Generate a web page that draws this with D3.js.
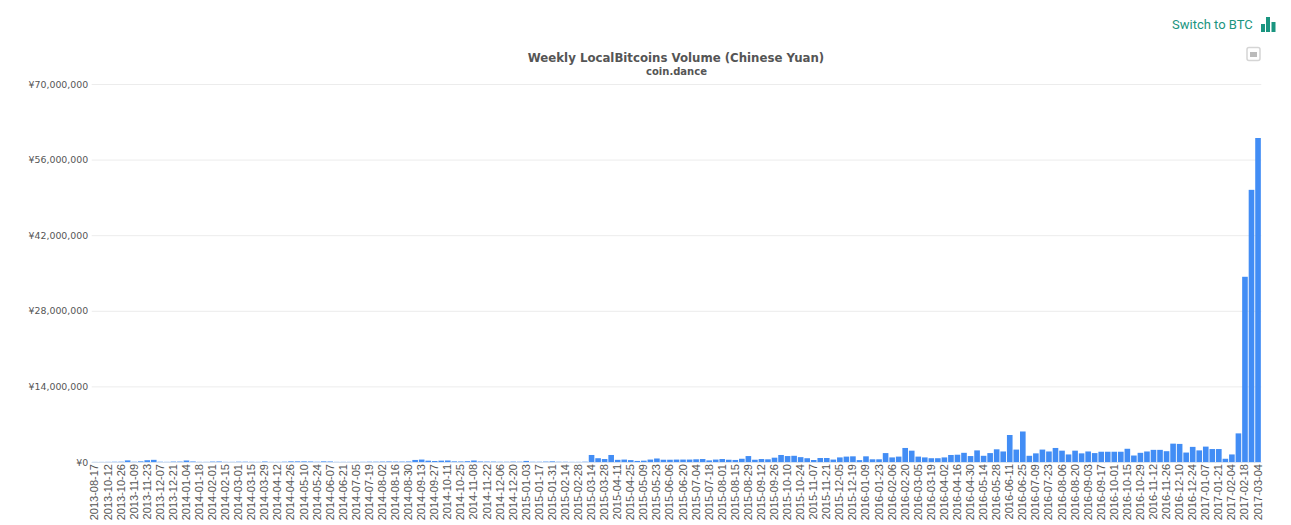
<!DOCTYPE html>
<html>
<head>
<meta charset="utf-8">
<title>Weekly LocalBitcoins Volume (Chinese Yuan)</title>
<script src="https://d3js.org/d3.v7.min.js"></script>
<style>
    html, body { margin: 0; padding: 0; background: #fff; overflow: hidden; }
    .tick text { font-family: "Liberation Sans", Arial, sans-serif; }
    .grid line { stroke: #ececec; }
    .grid path, .xaxis path, .xaxis line { display: none; }
</style>
</head>
<body>
<div id="chart"></div>
<script>
// every second week gets a label on the axis
var tickLabels = ["2013-08-17","2013-10-12","2013-10-26","2013-11-09","2013-11-23","2013-12-07","2013-12-21",
    "2014-01-04","2014-01-18","2014-02-01","2014-02-15","2014-03-01","2014-03-15","2014-03-29","2014-04-12",
    "2014-04-26","2014-05-10","2014-05-24","2014-06-07","2014-06-21","2014-07-05","2014-07-19","2014-08-02",
    "2014-08-16","2014-08-30","2014-09-13","2014-09-27","2014-10-11","2014-10-25","2014-11-08","2014-11-22",
    "2014-12-06","2014-12-20","2015-01-03","2015-01-17","2015-01-31","2015-02-14","2015-02-28","2015-03-14",
    "2015-03-28","2015-04-11","2015-04-25","2015-05-09","2015-05-23","2015-06-06","2015-06-20","2015-07-04",
    "2015-07-18","2015-08-01","2015-08-15","2015-08-29","2015-09-12","2015-09-26","2015-10-10","2015-10-24",
    "2015-11-07","2015-11-21","2015-12-05","2015-12-19","2016-01-09","2016-01-23","2016-02-06","2016-02-20",
    "2016-03-05","2016-03-19","2016-04-02","2016-04-16","2016-04-30","2016-05-14","2016-05-28","2016-06-11",
    "2016-06-25","2016-07-09","2016-07-23","2016-08-06","2016-08-20","2016-09-03","2016-09-17","2016-10-01",
    "2016-10-15","2016-10-29","2016-11-12","2016-11-26","2016-12-10","2016-12-24","2017-01-07","2017-01-21",
    "2017-02-04","2017-02-18","2017-03-04"];

// weekly volume, millions of yuan
var volumeMillions = [
    0.02,0.02,0.03,0.05,0.06,0.30,0.05,0.12,0.33,0.40,0.05,0.03,0.08,0.08,0.28,0.10,0.03,0.03,0.08,0.10,
    0.03,0.03,0.06,0.06,0.04,0.03,0.10,0.03,0.03,0.06,0.12,0.12,0.12,0.10,0.05,0.12,0.10,0.03,0.03,0.03,
    0.03,0.04,0.06,0.06,0.08,0.10,0.08,0.08,0.10,0.38,0.45,0.25,0.18,0.25,0.28,0.12,0.10,0.15,0.28,0.10,
    0.08,0.08,0.05,0.05,0.08,0.06,0.20,0.05,0.05,0.08,0.12,0.05,0.05,0.03,0.03,0.06,
    1.30,0.70,0.55,1.30,0.40,0.45,0.35,0.20,0.25,0.45,0.65,0.42,0.42,0.45,0.45,0.45,0.50,0.55,0.30,0.45,
    0.55,0.42,0.38,0.60,1.10,0.42,0.55,0.50,0.80,1.30,1.10,1.15,0.90,0.70,0.37,0.74,0.74,0.45,0.85,1.00,
    1.05,0.35,1.05,0.50,0.50,1.65,0.85,1.00,2.60,2.10,1.00,0.85,0.70,0.70,0.85,1.30,1.35,1.70,1.10,2.15,
    1.15,1.65,2.35,1.95,5.00,2.30,5.65,1.15,1.60,2.30,1.95,2.60,2.10,1.40,2.10,1.60,1.95,1.65,1.90,1.90,
    1.90,1.90,2.45,1.20,1.70,1.95,2.25,2.25,2.00,3.40,3.35,1.75,2.80,2.15,2.85,2.40,2.40,0.60,1.40,5.30,
    34.3,50.4,60.0];

var yTicks = [0, 14, 28, 42, 56, 70];

var svgWidth = 1291;
var svgHeight = 525;

// plot area
var margin = { top: 84, right: 29.7, bottom: 63, left: 91.7 };
var width = svgWidth - margin.left - margin.right;
var height = svgHeight - margin.top - margin.bottom;

var svg = d3.select("#chart")
    .append("svg")
    .attr("width", svgWidth)
    .attr("height", svgHeight)
    .style("display", "block");

var chartGroup = svg.append("g")
    .attr("transform", `translate(${margin.left}, ${margin.top})`);

var xScale = d3.scaleBand()
    .domain(d3.range(volumeMillions.length))
    .range([0, width])
    .paddingInner(0.14)
    .paddingOuter(0.07);

var yScale = d3.scaleLinear()
    .domain([0, 70])
    .range([height, 0]);

// gridlines and y labels
var yAxis = d3.axisLeft(yScale)
    .tickValues(yTicks)
    .tickSize(-width)
    .tickPadding(3.5)
    .tickFormat(d => "¥" + d3.format(",")(d * 1000000));

var yGroup = chartGroup.append("g")
    .attr("class", "grid")
    .call(yAxis);

yGroup.selectAll("text")
    .style("font-family", "DejaVu Sans, Verdana, sans-serif")
    .attr("font-size", 9.4)
    .attr("fill", "#555");

// baseline
chartGroup.append("line")
    .attr("x1", 0)
    .attr("x2", width)
    .attr("y1", height + 0.5)
    .attr("y2", height + 0.5)
    .attr("stroke", "#d5e0ee");

chartGroup.selectAll(".bar")
    .data(volumeMillions)
    .enter()
    .append("rect")
    .attr("class", "bar")
    .attr("x", (d, i) => xScale(i))
    .attr("y", d => yScale(d))
    .attr("width", xScale.bandwidth())
    .attr("height", d => height - yScale(d))
    .attr("fill", "#428df5");

// x labels, one for every second bar
var xAxis = d3.axisBottom(xScale)
    .tickValues(tickLabels.map((d, i) => i * 2))
    .tickSize(0)
    .tickFormat(d => tickLabels[d / 2]);

var xGroup = chartGroup.append("g")
    .attr("class", "xaxis")
    .attr("transform", `translate(0,${height})`)
    .call(xAxis);

xGroup.selectAll("text")
    .attr("font-size", 11)
    .attr("fill", "#555")
    .attr("text-anchor", "end")
    .attr("dy", null)
    .attr("transform", "translate(3.5,2) rotate(-90)")
    .attr("x", 0)
    .attr("y", 0);

// title
svg.append("text")
    .attr("x", 676)
    .attr("y", 62)
    .attr("text-anchor", "middle")
    .attr("font-family", "DejaVu Sans, Verdana, sans-serif")
    .attr("font-size", 11.75)
    .attr("font-weight", "bold")
    .attr("fill", "#555")
    .text("Weekly LocalBitcoins Volume (Chinese Yuan)");

svg.append("text")
    .attr("x", 676.5)
    .attr("y", 75)
    .attr("text-anchor", "middle")
    .attr("font-family", "DejaVu Sans, Verdana, sans-serif")
    .attr("font-size", 10)
    .attr("font-weight", "bold")
    .attr("fill", "#555")
    .text("coin.dance");

// switch link with its little bars icon
svg.append("text")
    .attr("x", 1172)
    .attr("y", 29)
    .attr("font-family", "Roboto, sans-serif")
    .attr("font-size", 13)
    .attr("fill", "#1a9580")
    .text("Switch to BTC");

var iconGroup = svg.append("g").attr("fill", "#1a9580");
iconGroup.append("rect").attr("x", 1261).attr("y", 24).attr("width", 4).attr("height", 8);
iconGroup.append("rect").attr("x", 1266).attr("y", 17).attr("width", 4).attr("height", 15);
iconGroup.append("rect").attr("x", 1271.5).attr("y", 22).attr("width", 4).attr("height", 10);

// export menu button
svg.append("rect")
    .attr("x", 1247)
    .attr("y", 47.5)
    .attr("width", 13)
    .attr("height", 13)
    .attr("rx", 2)
    .attr("fill", "#fff")
    .attr("stroke", "#d5d5d5")
    .attr("stroke-width", 1.5);

svg.append("rect")
    .attr("x", 1250)
    .attr("y", 52)
    .attr("width", 7)
    .attr("height", 5)
    .attr("fill", "#bbb");
</script>
</body>
</html>
